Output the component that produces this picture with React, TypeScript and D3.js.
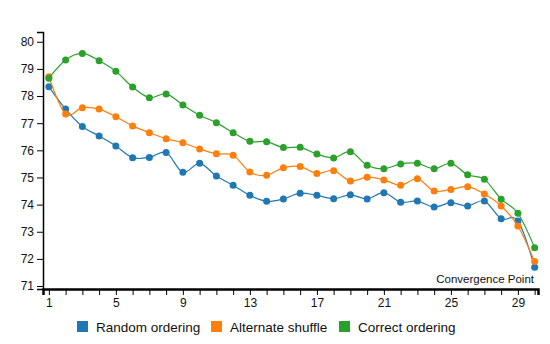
import React from "react";
import {
  select,
  scaleLinear,
  axisBottom,
  axisLeft,
  line,
  curveCardinal,
  range,
} from "d3";

const steps = range(1, 31);
const randomOrdering = [
  78.34, 77.52, 76.88, 76.53, 76.16, 75.73, 75.74, 75.92, 75.19, 75.52,
  75.05, 74.71, 74.34, 74.12, 74.21, 74.42, 74.34, 74.22, 74.36, 74.21,
  74.44, 74.09, 74.13, 73.91, 74.07, 73.95, 74.13, 73.48, 73.4, 71.69,
];
const alternateShuffle = [
  78.71, 77.34, 77.57, 77.52, 77.24, 76.9, 76.65, 76.43, 76.28, 76.05,
  75.87, 75.82, 75.2, 75.08, 75.36, 75.4, 75.15, 75.25, 74.87, 75.01,
  74.91, 74.71, 74.95, 74.5, 74.56, 74.66, 74.39, 73.95, 73.21, 71.9,
];
const correctOrdering = [
  78.66, 79.33, 79.57, 79.3, 78.91, 78.33, 77.94, 78.08, 77.67, 77.29,
  77.02, 76.65, 76.33, 76.32, 76.1, 76.11, 75.86, 75.72, 75.95, 75.45,
  75.32, 75.5, 75.52, 75.32, 75.52, 75.1, 74.93, 74.2, 73.68, 72.41,
];
const seriesNames = ["Random ordering", "Alternate shuffle", "Correct ordering"];
const colors = ["#1f77b4", "#ff7f0e", "#2ca02c"];
const yTicks = [71, 72, 73, 74, 75, 76, 77, 78, 79, 80];
const xLabels = [1, 5, 9, 13, 17, 21, 25, 29];

const FONT = "'Liberation Sans', Arial, sans-serif";

function Chart() {
  const svgRef = React.useRef<SVGSVGElement>(null);

  React.useEffect(() => {
    const svg = select(svgRef.current);
    svg.selectAll("*").remove();

    const xScale = scaleLinear().domain([0.65, 30.2]).range([43, 538]);
    const yScale = scaleLinear().domain([70.89, 80.36]).range([289, 32]);

    // axes
    const xAxis = axisBottom(xScale)
      .tickValues(steps)
      .tickSize(6)
      .tickFormat((d) => (xLabels.includes(d as number) ? String(d) : ""));
    const gx = svg
      .append("g")
      .attr("transform", "translate(0, 289)")
      .call(xAxis);
    gx.select(".domain").attr("stroke-width", 2.5);
    gx.selectAll("text")
      .attr("font-family", FONT)
      .attr("font-size", 12)
      .attr("fill", "#111");

    const yAxis = axisLeft(yScale).tickValues(yTicks).tickSize(6);
    const gy = svg.append("g").attr("transform", "translate(43, 0)").call(yAxis);
    gy.select(".domain").attr("stroke-width", 1.5);
    gy.selectAll("text")
      .attr("font-family", FONT)
      .attr("font-size", 12)
      .attr("fill", "#111");

    // lines and dots
    const allSeries = [randomOrdering, alternateShuffle, correctOrdering];
    const lineGenerator = line<number>()
      .x((d, i) => xScale(steps[i]))
      .y((d) => yScale(d))
      .curve(curveCardinal);

    allSeries.forEach((values, s) => {
      svg
        .append("path")
        .datum(values)
        .attr("fill", "none")
        .attr("stroke", colors[s])
        .attr("stroke-width", 1.2)
        .attr("d", lineGenerator);
      svg
        .append("g")
        .selectAll("circle")
        .data(values)
        .join("circle")
        .attr("cx", (d, i) => xScale(steps[i]))
        .attr("cy", (d) => yScale(d))
        .attr("r", 3.5)
        .attr("fill", colors[s]);
    });

    svg
      .append("text")
      .attr("x", 534)
      .attr("y", 283)
      .attr("text-anchor", "end")
      .attr("font-family", FONT)
      .attr("font-size", 11.5)
      .attr("fill", "#111")
      .text("Convergence Point");

    // legend
    const legendX = [77, 211, 339];
    const legend = svg
      .append("g")
      .selectAll("g")
      .data(seriesNames)
      .join("g")
      .attr("transform", (d, i) => `translate(${legendX[i]}, 321)`);
    legend
      .append("rect")
      .attr("width", 11)
      .attr("height", 11)
      .attr("fill", (d, i) => colors[i]);
    legend
      .append("text")
      .attr("x", 19)
      .attr("y", 10.5)
      .attr("font-family", FONT)
      .attr("font-size", 13.5)
      .attr("fill", "#111")
      .text((d) => d);
  }, []);

  return (
    <svg
      ref={svgRef}
      width={550}
      height={344}
      style={{ position: "absolute", left: 0, top: 0, background: "#fff" }}
    />
  );
}

export default function App() {
  return <Chart />;
}
